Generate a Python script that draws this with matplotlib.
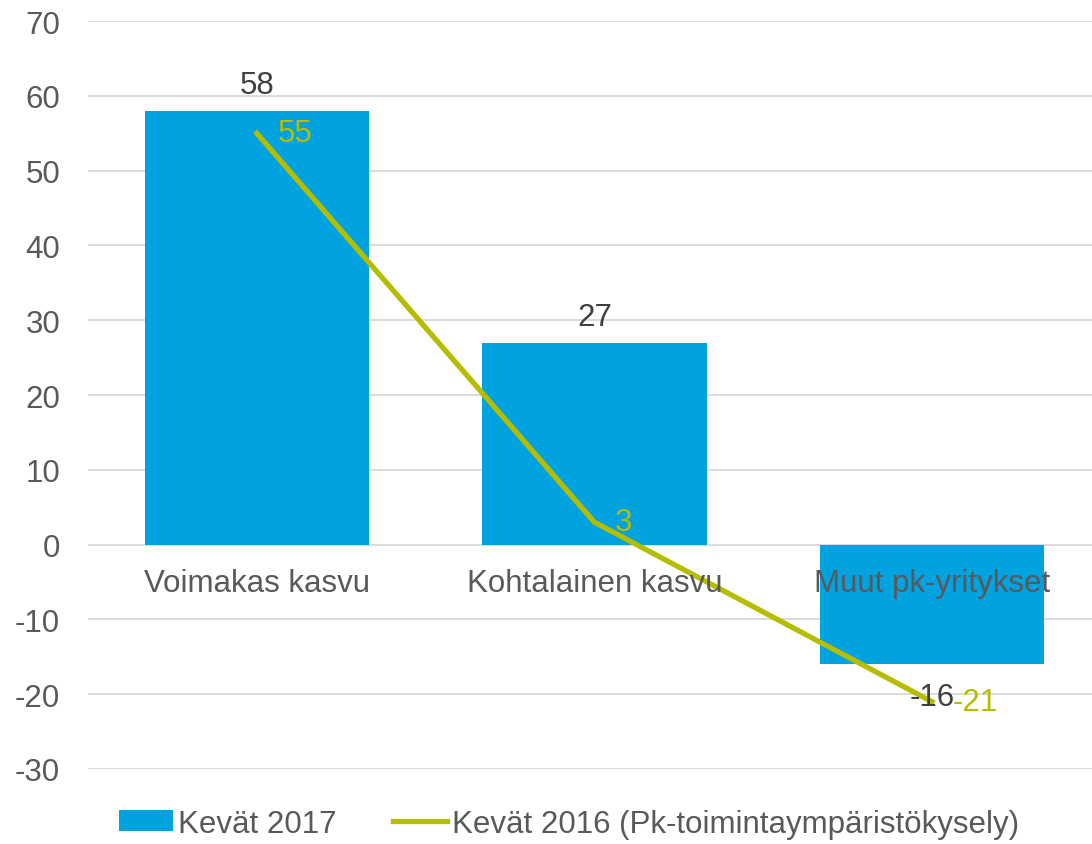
import numpy as np
import matplotlib
matplotlib.use("Agg")
import matplotlib.pyplot as plt

categories = ['Voimakas kasvu', 'Kohtalainen kasvu', 'Muut pk-yritykset']
kevat_2017 = [58, 27, -16]
kevat_2016 = [55, 3, -21]
yticks = [-30, -20, -10, 0, 10, 20, 30, 40, 50, 60, 70]

plt.rcParams['font.family'] = ['Liberation Sans', 'DejaVu Sans']

bar_col = '#00A3E0'
line_col = '#B5BD00'
txt_col = '#595959'
fs = 22.5

fig = plt.figure(figsize=(10.92, 8.45), dpi=100)
ax = fig.add_axes([0.0806, 0.0888, 0.9194, 0.885])

x = np.arange(len(categories))
bars = ax.bar(x, kevat_2017, width=0.665, color=bar_col, zorder=2, label='Kevät 2017')
line, = ax.plot(x, kevat_2016, color=line_col, lw=3.8, zorder=3,
                label='Kevät 2016 (Pk-toimintaympäristökysely)')

# data labels
for xi, v in zip(x, kevat_2017):
    if v >= 0:
        ax.annotate(str(v), (xi, v), xytext=(0, 8), textcoords='offset points',
                    ha='center', va='bottom', fontsize=fs, color='#404040', zorder=5)
    else:
        ax.annotate(str(v), (xi, v), xytext=(0, -13), textcoords='offset points',
                    ha='center', va='top', fontsize=fs, color='#404040', zorder=5)
for xi, v in zip(x, kevat_2016):
    ax.annotate(str(v), (xi, v), xytext=(15, 0), textcoords='offset points',
                ha='left', va='center', fontsize=fs, color=line_col, zorder=5)

# category labels drawn above the bars
for xi, c in zip(x, categories):
    ax.annotate(c, (xi, 0), xytext=(0, -17), textcoords='offset points',
                ha='center', va='top', fontsize=fs, color=txt_col, zorder=6)

ax.set_ylim(-30, 70)
ax.set_xlim(-0.5, 2.474)
ax.set_yticks(yticks)
ax.set_yticklabels([str(t) for t in yticks])
ax.yaxis.grid(True, color='#D9D9D9', lw=1.3, zorder=0)
ax.set_axisbelow(True)
ax.set_xticks([])

for s in ax.spines.values():
    s.set_visible(False)
ax.tick_params(axis='y', length=0, pad=20, labelsize=fs, labelcolor=txt_col)

leg = fig.legend([bars, line], [bars.get_label(), line.get_label()],
                 loc='lower center', bbox_to_anchor=(0.521, -0.027), ncol=2, frameon=False,
                 fontsize=fs, handlelength=1.75, handleheight=0.65, handletextpad=0.15,
                 columnspacing=1.8)
for t in leg.get_texts():
    t.set_color(txt_col)

fig.savefig('out.png', dpi=100)
